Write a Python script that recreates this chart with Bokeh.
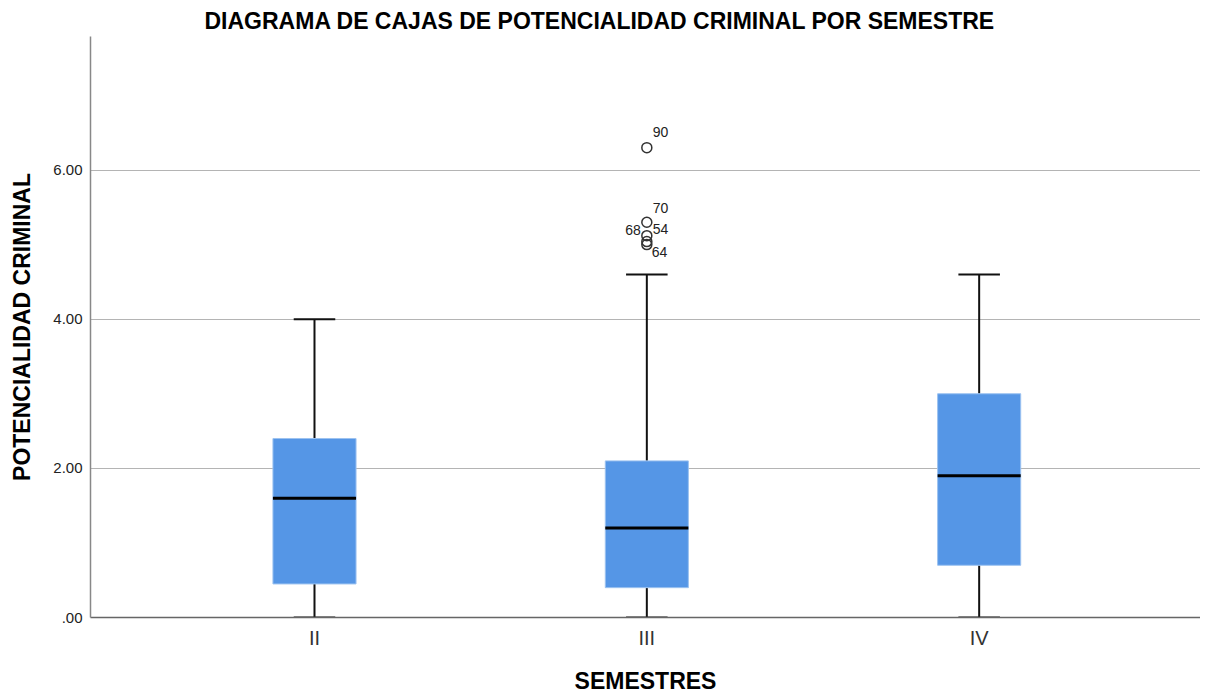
from bokeh.plotting import figure
from bokeh.models import ColumnDataSource, FixedTicker, Range1d
from bokeh.core.properties import value
from bokeh.embed import file_html
from bokeh.resources import INLINE

# ---- data ----
semestres = ["II", "III", "IV"]
whisk_low = [0.0, 0.0, 0.0]
q1 = [0.45, 0.40, 0.70]
median = [1.60, 1.20, 1.90]
q3 = [2.40, 2.10, 3.00]
whisk_high = [4.00, 4.60, 4.60]

outlier_group = ["III", "III", "III", "III", "III"]
outlier_value = [6.30, 5.30, 5.12, 5.04, 5.00]
outlier_label = ["90", "70", "54", "68", "64"]
label_dx = [6, 6, 6, -6, 5]
label_dy = [-16, -14, -7, -12, 7]
label_align = ["left", "left", "left", "right", "left"]

y_ticks = [0, 2, 4, 6]

# ---- styles ----
FONT = "Liberation Sans"
BOX_W = 0.25
CAP_W = 0.125
xpos = list(range(len(semestres)))
idx = {s: i for i, s in enumerate(semestres)}

p = figure(width=1200, height=697, output_backend="svg", toolbar_location=None,
           x_range=Range1d(-0.674, 2.666), y_range=Range1d(0, 7.79),
           min_border_left=90, min_border_right=0, min_border_top=36, min_border_bottom=80)

p.title.text = "DIAGRAMA DE CAJAS DE POTENCIALIDAD CRIMINAL POR SEMESTRE"
p.title.align = "left"
p.title.offset = 114
p.title.standoff = 6
p.title.text_font = FONT
p.title.text_font_size = "23px"
p.title.text_font_style = "bold"
p.title.text_color = "#000000"

box_src = ColumnDataSource(dict(
    x=xpos, q1=q1, q3=q3, med=median, lo=whisk_low, hi=whisk_high,
    xl=[x - BOX_W / 2 for x in xpos], xr=[x + BOX_W / 2 for x in xpos],
    cl=[x - CAP_W / 2 for x in xpos], cr=[x + CAP_W / 2 for x in xpos],
))

# whiskers
p.segment(x0="x", y0="q3", x1="x", y1="hi", source=box_src, line_color="#111111", line_width=2)
p.segment(x0="x", y0="lo", x1="x", y1="q1", source=box_src, line_color="#111111", line_width=2)
p.segment(x0="cl", y0="hi", x1="cr", y1="hi", source=box_src, line_color="#111111", line_width=2)
p.segment(x0="cl", y0="lo", x1="cr", y1="lo", source=box_src, line_color="#111111", line_width=2)
# boxes
p.quad(left="xl", right="xr", bottom="q1", top="q3", source=box_src,
       fill_color="#5596e6", line_color="#9cc2f0", line_width=1)
# median
p.segment(x0="xl", y0="med", x1="xr", y1="med", source=box_src, line_color="#000000", line_width=3)

# outliers
out_src = ColumnDataSource(dict(
    x=[idx[g] for g in outlier_group], y=outlier_value, lab=outlier_label,
    dx=label_dx, dy=label_dy, al=label_align,
))
p.scatter(x="x", y="y", source=out_src, marker="circle", size=10,
          fill_color=None, line_color="#333333", line_width=1.5)
p.text(x="x", y="y", text="lab", x_offset="dx", y_offset="dy", text_align="al",
       text_baseline="middle", source=out_src, text_font=value(FONT),
       text_font_size="14px", text_color="#222222")

# axes
p.xgrid.visible = False
p.ygrid.grid_line_color = "#b4b4b4"
p.ygrid.grid_line_width = 1
p.ygrid.ticker = FixedTicker(ticks=y_ticks)

p.yaxis.ticker = FixedTicker(ticks=y_ticks)
p.yaxis.major_label_overrides = {0: ".00", 2: "2.00", 4: "4.00", 6: "6.00"}
p.yaxis.axis_label = "POTENCIALIDAD CRIMINAL"
p.yaxis.axis_label_text_font = FONT
p.yaxis.axis_label_text_font_size = "23px"
p.yaxis.axis_label_text_font_style = "bold"
p.yaxis.axis_label_text_color = "#000000"
p.yaxis.axis_label_standoff = 15
p.yaxis.major_label_text_font = FONT
p.yaxis.major_label_text_font_size = "15px"
p.yaxis.major_label_text_color = "#222222"
p.yaxis.major_label_standoff = 8
p.yaxis.major_tick_out = 0
p.yaxis.major_tick_in = 0
p.yaxis.major_tick_line_color = None
p.yaxis.minor_tick_line_color = None
p.yaxis.axis_line_color = "#888888"
p.yaxis.axis_line_width = 1.5

p.xaxis.ticker = FixedTicker(ticks=xpos)
p.xaxis.major_label_overrides = {i: s for i, s in enumerate(semestres)}
p.xaxis.axis_label = "SEMESTRES"
p.xaxis.axis_label_text_font = FONT
p.xaxis.axis_label_text_font_size = "23px"
p.xaxis.axis_label_text_font_style = "bold"
p.xaxis.axis_label_text_color = "#000000"
p.xaxis.axis_label_standoff = 16
p.xaxis.major_label_text_font = FONT
p.xaxis.major_label_text_font_size = "20px"
p.xaxis.major_label_text_color = "#333333"
p.xaxis.major_label_standoff = 9
p.xaxis.major_tick_out = 0
p.xaxis.major_tick_in = 0
p.xaxis.major_tick_line_color = None
p.xaxis.minor_tick_line_color = None
p.xaxis.axis_line_color = "#666666"
p.xaxis.axis_line_width = 1.5

p.outline_line_color = None

open("out.html", "w").write(file_html(p, INLINE))
